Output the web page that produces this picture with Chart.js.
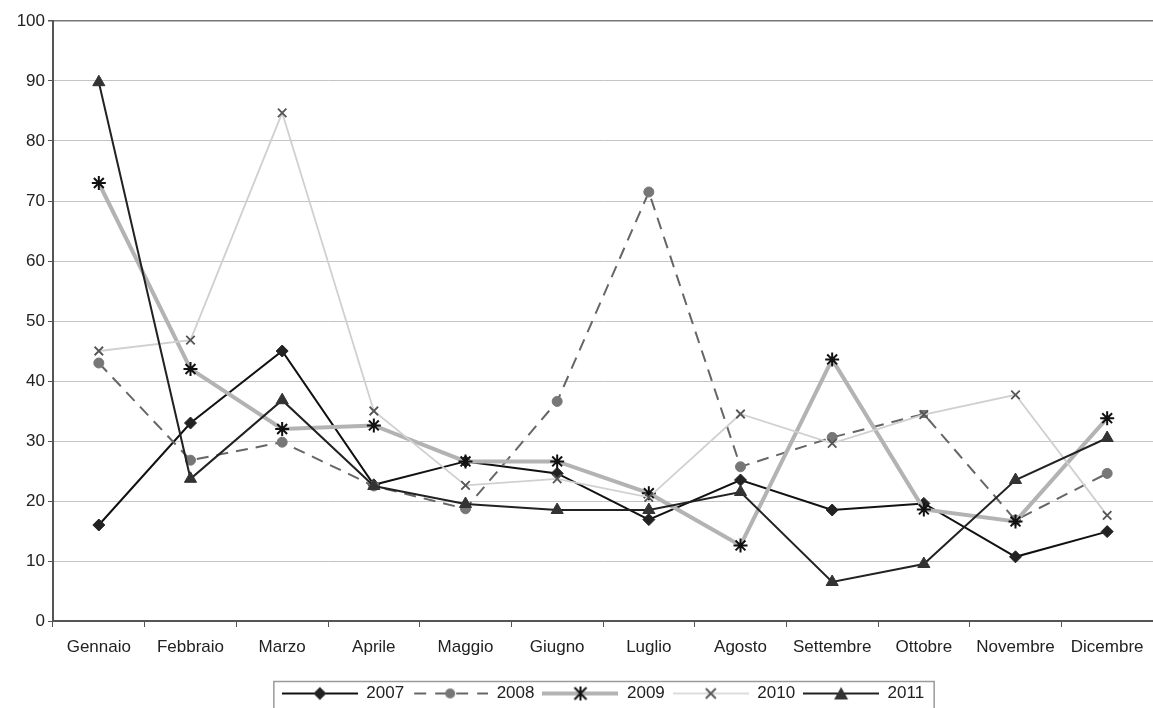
<!DOCTYPE html>
<html>
<head>
<meta charset="utf-8">
<script src="https://cdn.jsdelivr.net/npm/chart.js@4/dist/chart.umd.min.js"></script>
<style>
  html, body { margin: 0; padding: 0; overflow: hidden; background: #fff; }
  canvas { display: block; }
</style>
</head>
<body>
<!-- a little wider/taller than the window: the original picture is cropped at the right and bottom -->
<canvas id="myChart" width="1162" height="712"></canvas>
<script>
var months = ["Gennaio", "Febbraio", "Marzo", "Aprile", "Maggio", "Giugno",
  "Luglio", "Agosto", "Settembre", "Ottobre", "Novembre", "Dicembre"];
var years = ["2007", "2008", "2009", "2010", "2011"];

var s2007 = [16, 33, 45, 22.7, 26.6, 24.6, 16.9, 23.5, 18.5, 19.6, 10.7, 14.9];
var s2008 = [43, 26.8, 29.8, 22.5, 18.7, 36.6, 71.5, 25.7, 30.6, 34.5, 16.8, 24.6];
var s2009 = [73, 42, 32, 32.6, 26.6, 26.6, 21.3, 12.6, 43.6, 18.6, 16.6, 33.8];
var s2010 = [45, 46.8, 84.7, 35, 22.6, 23.7, 20.6, 34.5, 29.6, 34.4, 37.7, 17.6];
var s2011 = [89.8, 23.7, 36.8, 22.5, 19.5, 18.5, 18.5, 21.5, 6.5, 9.5, 23.5, 30.5];

var yTicks = [0, 10, 20, 30, 40, 50, 60, 70, 80, 90, 100];

var FONT = "'Liberation Sans', Arial, sans-serif";

// little line+marker pictures for the legend
function sample(draw) {
  var c = document.createElement("canvas");
  c.width = 76;
  c.height = 16;
  var g = c.getContext("2d");
  draw(g);
  return c;
}
var samples = [
  sample(function (g) {
    g.strokeStyle = "#111"; g.lineWidth = 2;
    g.beginPath(); g.moveTo(0, 8); g.lineTo(76, 8); g.stroke();
    g.fillStyle = "#222";
    g.beginPath(); g.moveTo(38, 1.5); g.lineTo(44.5, 8); g.lineTo(38, 14.5); g.lineTo(31.5, 8); g.closePath(); g.fill();
  }),
  sample(function (g) {
    g.strokeStyle = "#666"; g.lineWidth = 2;
    g.setLineDash([12, 9]);
    g.beginPath(); g.moveTo(2, 8); g.lineTo(76, 8); g.stroke();
    g.fillStyle = "#777";
    g.beginPath(); g.arc(38, 8, 5, 0, Math.PI * 2); g.fill();
  }),
  sample(function (g) {
    g.strokeStyle = "#b3b3b3"; g.lineWidth = 4;
    g.beginPath(); g.moveTo(0, 8); g.lineTo(76, 8); g.stroke();
    g.strokeStyle = "#111"; g.lineWidth = 2;
    g.beginPath();
    g.moveTo(38, 1); g.lineTo(38, 15);
    g.moveTo(32, 2); g.lineTo(44, 14);
    g.moveTo(44, 2); g.lineTo(32, 14);
    g.stroke();
  }),
  sample(function (g) {
    g.strokeStyle = "#d0d0d0"; g.lineWidth = 1.5;
    g.beginPath(); g.moveTo(0, 8); g.lineTo(76, 8); g.stroke();
    g.strokeStyle = "#555"; g.lineWidth = 1.8;
    g.beginPath();
    g.moveTo(33, 3); g.lineTo(43, 13);
    g.moveTo(43, 3); g.lineTo(33, 13);
    g.stroke();
  }),
  sample(function (g) {
    g.strokeStyle = "#222"; g.lineWidth = 2;
    g.beginPath(); g.moveTo(0, 8); g.lineTo(76, 8); g.stroke();
    g.fillStyle = "#333";
    g.beginPath(); g.moveTo(38, 1.5); g.lineTo(45, 14); g.lineTo(31, 14); g.closePath(); g.fill();
  })
];

var s2008Styles = s2008.map(function (v, i) { return i === 9 ? "rect" : "circle"; });

var legendFrame = {
  id: "legendFrame",
  afterDraw: function (chart) {
    var hb = chart.legend && chart.legend.legendHitBoxes;
    if (!hb || !hb.length) return;
    var first = hb[0], last = hb[hb.length - 1];
    var cy = first.top + first.height / 2;
    var ctx = chart.ctx;
    ctx.save();
    ctx.strokeStyle = "#9a9a9a";
    ctx.lineWidth = 1.5;
    ctx.strokeRect(first.left - 8, cy - 12, last.left + last.width + 18 - first.left, 40);
    ctx.restore();
  }
};

var ctx = document.getElementById("myChart").getContext("2d");
var chart = new Chart(ctx, {
  type: "line",
  data: {
    labels: months,
    datasets: [
      {
        label: years[0],
        data: s2007,
        order: 4,
        borderColor: "#111",
        borderWidth: 2,
        pointStyle: "rectRot",
        pointRadius: 6,
        pointBackgroundColor: "#222",
        pointBorderColor: "#222",
        pointBorderWidth: 1
      },
      {
        label: years[1],
        data: s2008,
        order: 3,
        borderColor: "#666",
        borderWidth: 2,
        borderDash: [12, 8],
        pointStyle: s2008Styles,
        pointRadius: 5,
        pointBackgroundColor: "#777",
        pointBorderColor: "#777",
        pointBorderWidth: 1
      },
      {
        label: years[2],
        data: s2009,
        order: 2,
        borderColor: "#b3b3b3",
        borderWidth: 4,
        pointStyle: "star",
        pointRadius: 7,
        pointBackgroundColor: "#111",
        pointBorderColor: "#111",
        pointBorderWidth: 2
      },
      {
        label: years[3],
        data: s2010,
        order: 1,
        borderColor: "#d0d0d0",
        borderWidth: 1.8,
        pointStyle: "crossRot",
        pointRadius: 6,
        pointBackgroundColor: "#555",
        pointBorderColor: "#555",
        pointBorderWidth: 1.8
      },
      {
        label: years[4],
        data: s2011,
        order: 0,
        borderColor: "#222",
        borderWidth: 2,
        pointStyle: "triangle",
        pointRadius: 7,
        pointBackgroundColor: "#333",
        pointBorderColor: "#333",
        pointBorderWidth: 1
      }
    ]
  },
  options: {
    responsive: false,
    animation: false,
    devicePixelRatio: 1,
    layout: { padding: { top: 21, left: 0, right: 0, bottom: 0 } },
    elements: { line: { tension: 0 } },
    scales: {
      x: {
        offset: true,
        grid: {
          offset: true,
          drawOnChartArea: false,
          drawTicks: true,
          tickLength: 6,
          tickColor: "#555"
        },
        border: { color: "#555", width: 2 },
        ticks: {
          color: "#222",
          padding: 10,
          maxRotation: 0,
          autoSkip: false,
          font: { family: FONT, size: 17 }
        },
        afterFit: function (scale) { scale.height = 56; }
      },
      y: {
        min: yTicks[0],
        max: yTicks[yTicks.length - 1],
        afterBuildTicks: function (scale) {
          scale.ticks = yTicks.map(function (v) { return { value: v }; });
        },
        grid: {
          color: function (c) { return c.tick && c.tick.value === 100 ? "#777" : "#c4c4c4"; },
          lineWidth: function (c) { return c.tick && c.tick.value === 100 ? 1.5 : 1; },
          drawTicks: true,
          tickLength: 5,
          tickColor: "#555"
        },
        border: { color: "#555", width: 2 },
        ticks: {
          color: "#222",
          padding: 3,
          font: { family: FONT, size: 17 }
        },
        afterFit: function (scale) { scale.width = 53; }
      }
    },
    plugins: {
      tooltip: { enabled: false },
      legend: {
        position: "bottom",
        fullSize: false,
        labels: {
          usePointStyle: true,
          pointStyleWidth: 76,
          padding: 8,
          color: "#222",
          font: { family: FONT, size: 17 },
          sort: function (a, b) { return a.datasetIndex - b.datasetIndex; },
          generateLabels: function (chart) {
            var items = Chart.defaults.plugins.legend.labels.generateLabels(chart);
            items.forEach(function (it) {
              it.pointStyle = samples[it.datasetIndex];
              it.rotation = 0;
            });
            return items;
          }
        }
      }
    }
  },
  plugins: [legendFrame]
});
</script>
</body>
</html>
